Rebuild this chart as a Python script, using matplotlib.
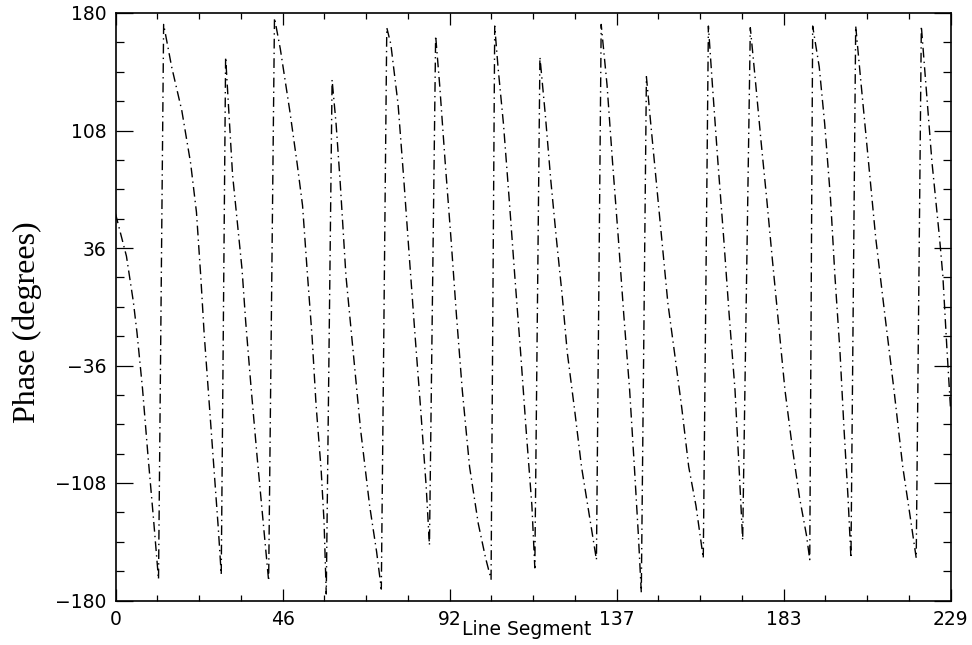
import matplotlib
matplotlib.use("Agg")
import matplotlib.pyplot as plt
from matplotlib.ticker import FixedLocator, AutoMinorLocator

# phase vs line segment
segment = [0, 3.0, 4.9, 5.9, 7.4, 8.9, 10.5, 11.8,
           13.2, 15.4, 18.2, 20.6, 22.2, 23.4, 24.3, 25.3, 26.8, 28.2, 29.0,
           30.2, 32.1, 34.7, 35.7, 37.2, 38.8, 40.5, 42.0,
           43.6, 45.2, 47.8, 49.8, 51.3, 52.6, 53.9, 55.0, 56.4, 57.2, 57.8,
           59.4, 60.5, 61.6, 63.2, 65.2, 67.2, 69.7, 71.6, 72.9,
           74.4, 75.5, 77.5, 79.1, 80.6, 82.1, 83.7, 85.2, 86.1,
           87.8, 88.9, 90.4, 92.0, 93.5, 95.1, 97.1, 99.5, 101.5, 103.0,
           104.0, 104.9, 106.4, 108.0, 109.5, 111.1, 112.6, 114.2, 115.0,
           116.4, 117.9, 119.4, 120.9, 122.5, 123.9, 125.9, 127.8, 129.8, 131.9,
           133.2, 134.8, 136.3, 137.9, 139.4, 141.0, 142.3, 143.4, 144.2,
           145.6, 146.8, 148.3, 149.8, 151.5, 153.3, 155.3, 157.2, 159.2, 161.2,
           162.6, 163.7, 165.2, 166.8, 168.3, 169.9, 171.0, 172.0,
           174.1, 175.6, 177.1, 178.6, 180.1, 181.6, 183.6, 185.6, 187.6, 189.5, 190.4,
           191.2, 193.0, 194.5, 196.1, 197.3, 198.7, 199.8, 200.9, 201.7,
           203.0, 204.5, 206.5, 208.5, 211.0, 213.5, 215.9, 217.9, 219.6,
           221.0, 223.9, 226.0, 226.9, 228.0, 229.0]
phase = [57, 31, 3, -16, -50, -91, -132, -167,
         173, 147, 120, 88, 58, 18, -16, -47, -93, -136, -164,
         153, 81, 23, -9, -50, -91, -132, -168,
         177, 158, 120, 88, 62, 21, -18, -60, -100, -132, -176,
         139, 112, 77, 19, -28, -75, -122, -150, -173,
         171, 161, 124, 77, 30, -16, -63, -110, -146,
         166, 136, 89, 42, -5, -51, -98, -133, -154, -167,
         172, 147, 112, 65, 19, -28, -75, -122, -160,
         153, 117, 77, 42, 7, -28, -63, -98, -126, -155,
         173, 136, 89, 42, -5, -51, -98, -140, -175,
         141, 112, 77, 42, 2, -28, -62, -98, -122, -154,
         172, 136, 89, 42, -5, -51, -98, -143,
         171, 136, 100, 66, 30, -5, -51, -86, -117, -140, -155,
         172, 147, 112, 66, 19, -28, -75, -117, -154,
         172, 136, 89, 42, -5, -51, -98, -128, -154,
         172, 89, 42, 19, -25, -62]

xticks = [0, 45.8, 91.6, 137.4, 183.2, 229]
xticklabels = ["0", "46", "92", "137", "183", "229"]
yticks = [-180, -108, -36, 36, 108, 180]
yticklabels = ["\u2212180", "\u2212108", "\u221236", "36", "108", "180"]

fig = plt.figure(figsize=(9.72, 6.45), dpi=100)
ax = fig.add_axes([115.5 / 972, 44.5 / 645, 835 / 972, 587.5 / 645])

ax.plot(segment, phase, color="black", lw=1.0, linestyle=(0, (7, 3, 1, 3)))

ax.set_xlim(0, 229)
ax.set_ylim(-180, 180)

ax.xaxis.set_major_locator(FixedLocator(xticks))
ax.yaxis.set_major_locator(FixedLocator(yticks))
ax.set_xticklabels(xticklabels)
ax.set_yticklabels(yticklabels)
ax.xaxis.set_minor_locator(AutoMinorLocator(4))
ax.yaxis.set_minor_locator(AutoMinorLocator(4))

ax.tick_params(axis="x", which="both", direction="in", top=True, bottom=True,
               width=0.9, labelsize=13.5, pad=7)
ax.tick_params(axis="x", which="major", length=8.5)
ax.tick_params(axis="x", which="minor", length=4.3)
ax.tick_params(axis="y", which="both", direction="in", left=True, right=True,
               width=0.9, labelsize=13.5, pad=6.5)
ax.tick_params(axis="y", which="major", length=12)
ax.tick_params(axis="y", which="minor", length=6)
for lab in ax.get_xticklabels() + ax.get_yticklabels():
    lab.set_family("DejaVu Sans")

for s in ax.spines.values():
    s.set_linewidth(1.2)

# label sits low, squeezed in between the 92 and 137 tick labels
ax.set_xlabel("Line Segment", fontsize=13.5, family="DejaVu Sans", va="top")
ax.xaxis.set_label_coords(0.492, -0.034)

fig.text(27 / 972, 1 - 322.5 / 645, "Phase (degrees)", rotation=90,
         ha="center", va="center", fontsize=23, family="Liberation Serif")

fig.savefig("out.png", dpi=100)
